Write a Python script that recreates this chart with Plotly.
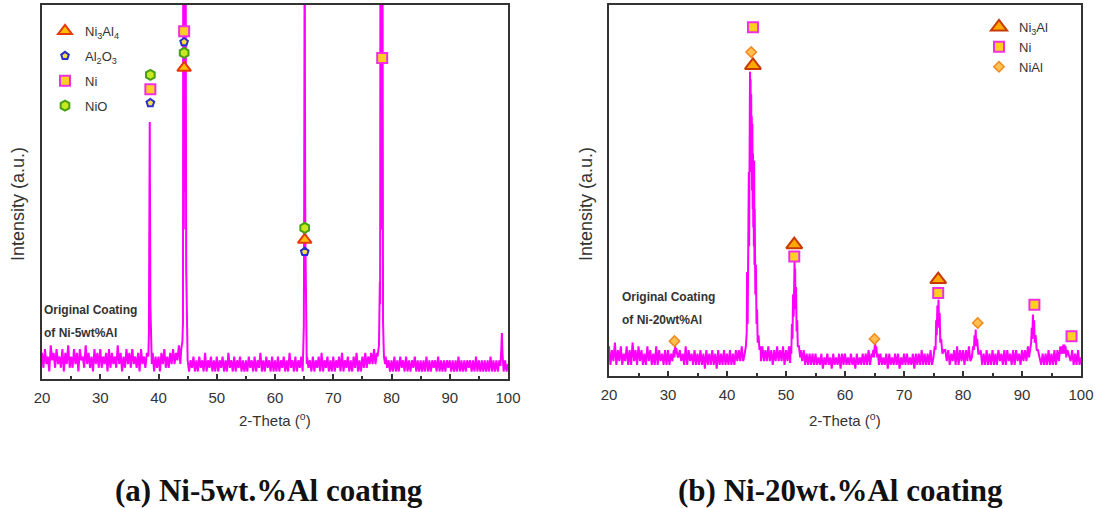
import numpy as np
import plotly.graph_objects as go

# ---------------- data ----------------
# scan sampling grid for the background (2-theta, deg, 0.25 deg step)
scan_x = np.linspace(20, 100, 321)

# (a) Ni-5wt.%Al : background intensity (a.u., frame = 0..100)
left_bg = [
    7, 3, 8, 4, 6, 2, 9, 5, 7, 3, 8, 4, 6, 3, 8, 2, 7, 4, 9, 3,
    6, 3, 8, 4, 7, 2, 8, 5, 6, 3, 9, 4, 7, 3, 6, 2, 8, 4, 7, 3,
    8, 3, 6, 4, 7, 2, 8, 3, 7, 4, 6, 3, 9, 4, 7, 2, 6, 3, 8, 4,
    7, 3, 8, 4, 6, 3, 7, 2, 8, 4, 6, 3, 7, 4, 8, 3, 7, 2, 6, 3,
    6, 2, 7, 4, 8, 3, 6, 3, 7, 4, 8, 4, 7, 5, 9, 4, 8, 5, 9, 6,
    6, 2, 5, 3, 6, 2, 5, 2, 6, 3, 5, 2, 7, 2, 5, 3, 6, 2, 5, 2,
    6, 2, 5, 3, 6, 2, 5, 2, 7, 3, 5, 2, 6, 2, 5, 3, 6, 2, 5, 2,
    5, 2, 6, 3, 5, 2, 6, 2, 5, 3, 7, 2, 5, 2, 6, 3, 5, 2, 6, 2,
    5, 2, 6, 2, 5, 3, 6, 2, 5, 2, 7, 3, 5, 2, 6, 2, 5, 3, 6, 2,
    5, 2, 6, 3, 5, 2, 6, 2, 5, 3, 6, 2, 7, 2, 5, 3, 6, 2, 5, 2,
    6, 2, 5, 3, 6, 2, 7, 2, 5, 3, 6, 2, 5, 2, 6, 3, 7, 2, 5, 2,
    6, 3, 7, 3, 6, 4, 7, 4, 8, 4, 7, 3, 6, 3, 5, 2, 6, 3, 5, 2,
    5, 2, 6, 2, 5, 2, 6, 3, 5, 2, 6, 2, 5, 2, 5, 3, 6, 2, 5, 2,
    5, 2, 5, 2, 6, 2, 5, 2, 5, 3, 5, 2, 6, 2, 5, 2, 5, 2, 5, 3,
    5, 2, 5, 2, 5, 2, 6, 2, 5, 2, 5, 2, 5, 3, 5, 2, 5, 2, 6, 2,
    5, 2, 5, 2, 5, 2, 5, 2, 6, 2, 5, 2, 5, 2, 5, 3, 5, 2, 5, 2,
    4,
]
# peaks of (a): (2-theta list, intensity list)
left_peaks = [
    ([38.25, 38.35, 38.4, 38.45, 38.48, 38.5, 38.52, 38.55, 38.6, 38.7, 38.85],
     [6, 12, 30, 46, 40, 68.7, 44, 45, 20, 8, 4]),
    ([43.9, 44.1, 44.2, 44.25, 44.35, 44.45, 44.55, 44.65, 44.75, 44.85, 45.0],
     [8, 10, 15, 130, 40, 130, 50, 130, 30, 10, 5]),
    ([64.8, 64.95, 65.0, 65.05, 65.1, 65.15, 65.2, 65.3, 65.45],
     [5, 14, 40, 75, 130, 75, 40, 12, 4]),
    ([77.6, 77.85, 78.0, 78.05, 78.1, 78.15, 78.25, 78.35, 78.45, 78.55, 78.7, 78.9],
     [6, 9, 26, 20, 130, 40, 130, 40, 130, 15, 6, 4]),
    ([98.7, 98.85, 98.95, 99.05, 99.2], [3.5, 8, 12.3, 7, 4]),
]

# phase identification marks of (a)
a_ni3al4_x, a_ni3al4_y = [44.4, 65.1], [83.2, 37.2]
a_al2o3_x, a_al2o3_y = [38.6, 44.4, 65.1], [73.8, 90.1, 34.0]
a_ni_x, a_ni_y = [38.6, 44.4, 78.4], [77.5, 93.0, 85.8]
a_nio_x, a_nio_y = [38.6, 44.4, 65.1], [81.3, 87.2, 40.4]

# (b) Ni-20wt.%Al : background
right_bg = [
    8, 3, 7, 4, 9, 3, 7, 4, 8, 3, 6, 4, 8, 3, 7, 3, 9, 4, 7, 3,
    8, 4, 7, 3, 6, 3, 8, 4, 7, 3, 6, 3, 8, 3, 7, 4, 6, 3, 7, 3,
    7, 3, 6, 4, 7, 4, 8, 5, 7, 4, 6, 3, 8, 3, 7, 4, 6, 3, 7, 3,
    6, 3, 7, 3, 6, 2, 7, 3, 6, 3, 7, 3, 6, 2, 7, 3, 6, 3, 7, 3,
    6, 3, 7, 3, 6, 3, 7, 4, 7, 4, 8, 4, 9, 5, 9, 6, 9, 6, 9, 6,
    8, 5, 9, 4, 8, 4, 7, 4, 8, 4, 7, 3, 7, 4, 8, 4, 7, 4, 8, 3,
    7, 4, 8, 4, 9, 5, 8, 6, 9, 5, 7, 4, 7, 3, 6, 3, 6, 3, 6, 3,
    6, 3, 5, 3, 6, 2, 5, 3, 6, 3, 5, 2, 6, 3, 5, 3, 6, 2, 6, 3,
    6, 3, 5, 3, 6, 3, 5, 2, 6, 3, 5, 3, 6, 3, 6, 3, 7, 3, 6, 3,
    7, 4, 6, 3, 6, 3, 5, 3, 6, 2, 6, 3, 5, 3, 6, 3, 6, 2, 5, 3,
    6, 3, 6, 3, 5, 3, 6, 2, 6, 3, 6, 3, 7, 3, 6, 3, 6, 3, 7, 3,
    7, 4, 8, 4, 7, 4, 8, 4, 7, 4, 7, 3, 6, 4, 7, 3, 8, 3, 7, 4,
    7, 3, 7, 4, 8, 4, 7, 4, 8, 5, 7, 4, 7, 3, 6, 3, 7, 3, 6, 3,
    7, 3, 6, 3, 7, 4, 6, 3, 7, 3, 7, 4, 6, 3, 7, 3, 7, 4, 6, 3,
    7, 4, 7, 4, 8, 4, 7, 4, 7, 4, 8, 4, 7, 3, 6, 3, 6, 3, 7, 3,
    6, 3, 7, 3, 7, 4, 8, 4, 8, 5, 8, 4, 7, 4, 7, 3, 6, 3, 7, 3,
    5,
]
right_peaks = [
    ([30.8, 31.0, 31.1, 31.2, 31.3, 31.4, 31.6], [5, 7, 5, 8.5, 6, 7.5, 5.5]),
    ([43.0, 43.2, 43.35, 43.4, 43.5, 43.6, 43.65, 43.7, 43.75, 43.8, 43.85, 43.9, 43.95, 44.0,
      44.05, 44.1, 44.15, 44.2, 44.25, 44.3, 44.35, 44.4, 44.45, 44.5, 44.55, 44.6, 44.65, 44.7,
      44.8, 44.9, 45.0, 45.1, 45.2, 45.35, 45.5, 45.7],
     [6, 8, 12, 28, 14, 34, 20, 55, 35, 78, 50, 82, 60, 80,
      58, 76, 55, 70, 50, 68, 45, 60, 40, 55, 35, 58, 30, 45,
      22, 30, 14, 18, 9, 11, 7, 8]),
    ([50.7, 50.8, 50.9, 51.0, 51.1, 51.2, 51.3, 51.35, 51.4, 51.45, 51.5, 51.55, 51.6, 51.7,
      51.8, 51.9, 52.0, 52.2, 52.4],
     [3.5, 8, 6, 14, 10, 22, 16, 28, 20, 30.9, 22, 29, 18, 24, 12, 15, 8, 8, 5]),
    ([64.6, 64.8, 64.9, 65.0, 65.1, 65.2, 65.3, 65.45, 65.6], [5, 7, 5, 8, 9.4, 6, 8, 5, 6]),
    ([75.0, 75.2, 75.35, 75.45, 75.55, 75.65, 75.75, 75.85, 75.95, 76.05, 76.15, 76.3, 76.5, 76.8],
     [5, 8, 7, 15, 11, 19, 14, 20.6, 13, 17, 9, 10, 6, 7]),
    ([81.5, 81.7, 81.85, 81.95, 82.05, 82.15, 82.25, 82.4, 82.6, 82.9],
     [5, 8, 7, 11, 8, 12.5, 8, 10, 6, 6]),
    ([91.2, 91.4, 91.55, 91.65, 91.75, 91.85, 91.95, 92.05, 92.15, 92.3, 92.5, 92.7, 93.0],
     [5, 8, 9, 13, 10, 16.6, 11, 15, 9, 11, 7, 7, 5]),
    ([96.6, 96.8, 96.9, 97.0, 97.1, 97.2, 97.3, 97.4, 97.5, 97.7, 98.0],
     [6, 8, 6, 8.5, 6, 8.5, 6, 8, 5, 7, 5]),
]

b_ni3al_x, b_ni3al_y = [44.4, 51.4, 75.8], [83.7, 35.4, 26.0]
b_ni_x, b_ni_y = [44.4, 51.4, 75.8, 92.1, 98.4], [94.0, 32.2, 22.4, 19.2, 10.7]
b_nial_x, b_nial_y = [31.1, 44.1, 65.0, 82.5], [9.4, 87.3, 10.0, 14.3]

captions = ["(a) Ni-5wt.%Al coating", "(b) Ni-20wt.%Al coating"]
notes = [["Original Coating", "of Ni-5wt%Al"], ["Original Coating", "of Ni-20wt%Al"]]


def build_pattern(bg, peaks):
    keep = []
    for x, y in zip(scan_x, bg):
        if not any(min(px) <= x <= max(px) for px, _ in peaks):
            keep.append((float(x), y))
    for px, py in peaks:
        keep.extend(zip(px, py))
    keep.sort(key=lambda t: t[0])
    return [k[0] for k in keep], [k[1] for k in keep]


lx, ly = build_pattern(left_bg, left_peaks)
rx, ry = build_pattern(right_bg, right_peaks)

# ---------------- figure ----------------
MAG = "#ff00ff"
FONT = "Liberation Sans, Arial, sans-serif"
W, H = 1098, 508

fig = go.Figure()

fig.add_trace(go.Scatter(x=lx, y=ly, mode="lines", line=dict(color=MAG, width=2),
                         showlegend=False, xaxis="x", yaxis="y", hoverinfo="skip"))
fig.add_trace(go.Scatter(x=rx, y=ry, mode="lines", line=dict(color=MAG, width=2),
                         showlegend=False, xaxis="x2", yaxis="y2", hoverinfo="skip"))

# markers (a)
fig.add_trace(go.Scatter(x=a_ni3al4_x, y=a_ni3al4_y, mode="markers", name="Ni<sub>3</sub>Al<sub>4</sub>",
                         marker=dict(symbol="triangle-up", size=12, color="#ffc000",
                                     line=dict(color="#e8380d", width=2)),
                         xaxis="x", yaxis="y", legend="legend", legendgroup="a1"))
fig.add_trace(go.Scatter(x=a_al2o3_x, y=a_al2o3_y, mode="markers", name="Al<sub>2</sub>O<sub>3</sub>",
                         marker=dict(symbol="pentagon", size=8, color="#ffe040",
                                     line=dict(color="#2830c8", width=2)),
                         xaxis="x", yaxis="y", legend="legend", legendgroup="a2"))
fig.add_trace(go.Scatter(x=a_ni_x, y=a_ni_y, mode="markers", name="Ni",
                         marker=dict(symbol="square", size=10, color="#ffd020",
                                     line=dict(color="#f030e0", width=2)),
                         xaxis="x", yaxis="y", legend="legend", legendgroup="a3"))
fig.add_trace(go.Scatter(x=a_nio_x, y=a_nio_y, mode="markers", name="NiO",
                         marker=dict(symbol="hexagon", size=10, color="#c8e820",
                                     line=dict(color="#46a010", width=2)),
                         xaxis="x", yaxis="y", legend="legend", legendgroup="a4"))

# markers (b)
fig.add_trace(go.Scatter(x=b_ni3al_x, y=b_ni3al_y, mode="markers", name="Ni<sub>3</sub>Al",
                         marker=dict(symbol="triangle-up", size=14, color="#ffa800",
                                     line=dict(color="#c83800", width=2)),
                         xaxis="x2", yaxis="y2", legend="legend2", legendgroup="b1"))
fig.add_trace(go.Scatter(x=b_ni_x, y=b_ni_y, mode="markers", name="Ni",
                         marker=dict(symbol="square", size=10, color="#ffd020",
                                     line=dict(color="#f030e0", width=2)),
                         xaxis="x2", yaxis="y2", legend="legend2", legendgroup="b2"))
fig.add_trace(go.Scatter(x=b_nial_x, y=b_nial_y, mode="markers", name="NiAl",
                         marker=dict(symbol="diamond", size=8, color="#ffc050",
                                     line=dict(color="#f08a20", width=1.5)),
                         xaxis="x2", yaxis="y2", legend="legend2", legendgroup="b3"))

left_dom = [42 / W, 508 / W]
right_dom = [609 / W, 1081 / W]


def xaxis_cfg(domain, anchor):
    return dict(domain=domain, anchor=anchor, range=[20, 100], dtick=10, tick0=20, automargin=False,
                showgrid=False, zeroline=False, showline=True, mirror=True,
                linecolor="#333333", linewidth=2,
                ticks="inside", ticklen=5, tickwidth=2, tickcolor="#333333",
                minor=dict(dtick=5, ticks="inside", ticklen=3, tickwidth=2, tickcolor="#333333"),
                tickfont=dict(family=FONT, size=15, color="#333333"), ticklabelstandoff=4)


def yaxis_cfg(domain, anchor):
    return dict(domain=domain, anchor=anchor, range=[0, 100], showgrid=False, zeroline=False,
                automargin=False, showline=True, mirror=True, linecolor="#333333", linewidth=2,
                showticklabels=False, ticks="")


annotations = []
for i, (cx, ylab_x) in enumerate([((42 + 508) / 2, 18), ((609 + 1081) / 2, 586)]):
    annotations.append(dict(text="2-Theta (<sup>o</sup>)", x=cx / W, y=1 - 419 / H, xref="paper", yref="paper",
                            showarrow=False, font=dict(family=FONT, size=15, color="#333333"),
                            xanchor="center", yanchor="middle"))
    annotations.append(dict(text="Intensity (a.u.)", x=ylab_x / W, y=1 - 204 / H, xref="paper", yref="paper",
                            showarrow=False, textangle=-90, font=dict(family=FONT, size=18, color="#333333"),
                            xanchor="center", yanchor="middle"))
    annotations.append(dict(text="<b>" + captions[i] + "</b>", x=[269, 840][i] / W, y=1 - 490 / H,
                            xref="paper", yref="paper", showarrow=False,
                            font=dict(family="Liberation Serif, Times New Roman, serif", size=31, color="#111111"),
                            xanchor="center", yanchor="middle"))
    nx = [42, 620][i]
    ny = [[310, 333], [297, 320]][i]
    for line_txt, yy in zip(notes[i], ny):
        annotations.append(dict(text="<b>" + line_txt + "</b>", x=nx / W, y=1 - yy / H, xref="paper", yref="paper",
                                showarrow=False, font=dict(family=FONT, size=12, color="#333333"),
                                xanchor="left", yanchor="middle"))

fig.update_layout(
    width=W, height=H, margin=dict(l=0, r=0, t=0, b=0, autoexpand=False),
    paper_bgcolor="white", plot_bgcolor="white",
    xaxis=xaxis_cfg(left_dom, "y"),
    yaxis=yaxis_cfg([1 - 379 / H, 1 - 5 / H], "x"),
    xaxis2=xaxis_cfg(right_dom, "y2"),
    yaxis2=yaxis_cfg([1 - 376 / H, 1 - 5 / H], "x2"),
    legend=dict(x=45 / W, y=1 - 16 / H, xanchor="left", yanchor="top", bgcolor="rgba(0,0,0,0)",
                font=dict(family=FONT, size=13, color="#333333"), tracegroupgap=5, itemsizing="trace"),
    legend2=dict(x=979 / W, y=1 - 12 / H, xanchor="left", yanchor="top", bgcolor="rgba(0,0,0,0)",
                 font=dict(family=FONT, size=13, color="#333333"), tracegroupgap=0, itemsizing="trace"),
    annotations=annotations,
    showlegend=True,
)

fig.write_html("out.html")
